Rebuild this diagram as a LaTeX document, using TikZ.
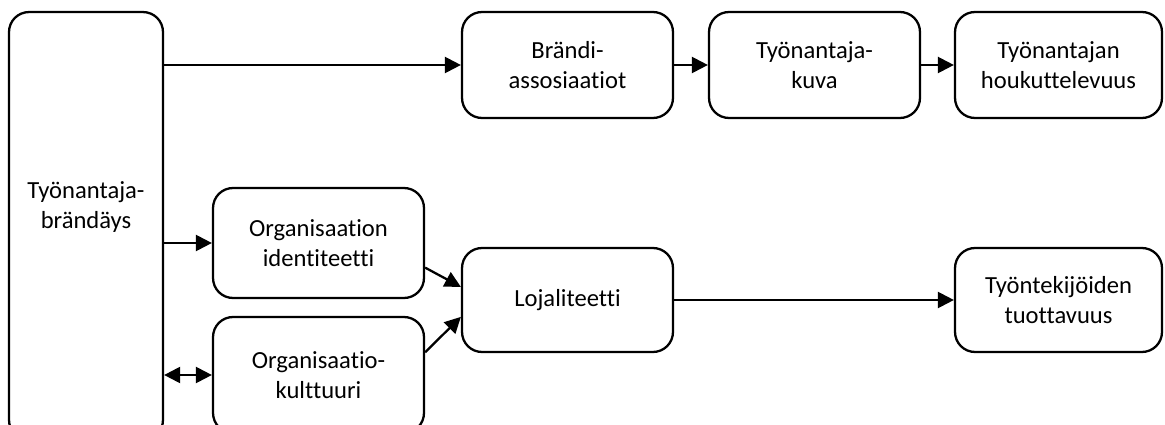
\documentclass[tikz,border=0pt]{standalone}
\usepackage{fontspec}
\setmainfont{Carlito}[Ligatures=NoCommon]
\usetikzlibrary{arrows.meta}
\tikzset{
  every picture/.style={line width=1.3pt},
  box/.style={draw, rounded corners=0.4cm, align=center, minimum width=4.22cm, minimum height=2.12cm, inner sep=2pt, font=\fontsize{14}{17}\selectfont},
  label text/.style={align=center, font=\fontsize{14}{17}\selectfont},
  arrow/.style={-{Triangle[length=3.2mm, width=3.2mm]}},
  twoway/.style={{Triangle[length=3.2mm, width=3.2mm]}-{Triangle[length=3.2mm, width=3.2mm]}},
}

\begin{document}
\begin{tikzpicture}[x=0.02cm, y=-0.02cm]
  \clip (0,0) rectangle (1165,425);
  % employer branding column
  \node[box, minimum width=3.08cm, minimum height=8.56cm] (brand) at (86,226) {};
  \node[label text] (brandtxt) at (86,207) {Työnantaja-\\brändäys};
  % upper chain
  \node[box] (assoc) at (567.5,65) {Brändi-\\assosiaatiot};
  \node[box] (image) at (814.5,65) {Työnantaja-\\kuva};
  \node[box, minimum width=4.14cm] (attract) at (1058.5,65) {Työnantajan\\houkuttelevuus};
  % lower chain
  \node[box, minimum height=2.2cm] (ident) at (318.5,243) {Organisaation\\identiteetti};
  \node[box, minimum height=2.32cm] (culture) at (318.5,375) {Organisaatio-\\kulttuuri};
  \node[box, minimum height=2.08cm] (loyal) at (567.5,300) {Lojaliteetti};
  \node[box, minimum width=4.14cm, minimum height=2.08cm] (product) at (1058.5,300) {Työntekijöiden\\tuottavuus};
  % connectors
  \draw[arrow] (brand.east |- assoc.west) -- (assoc.west);
  \draw[arrow] (assoc.east) -- (image.west);
  \draw[arrow] (image.east) -- (attract.west);
  \draw[arrow] (brand.east |- ident.west) -- (ident.west);
  \draw[twoway] (brand.east |- culture.west) -- (culture.west);
  \draw[arrow] (ident.-13) -- (loyal.173);
  \draw[arrow] (culture.12) -- (loyal.189);
  \draw[arrow] (loyal.east) -- (product.west);
\end{tikzpicture}
\end{document}
